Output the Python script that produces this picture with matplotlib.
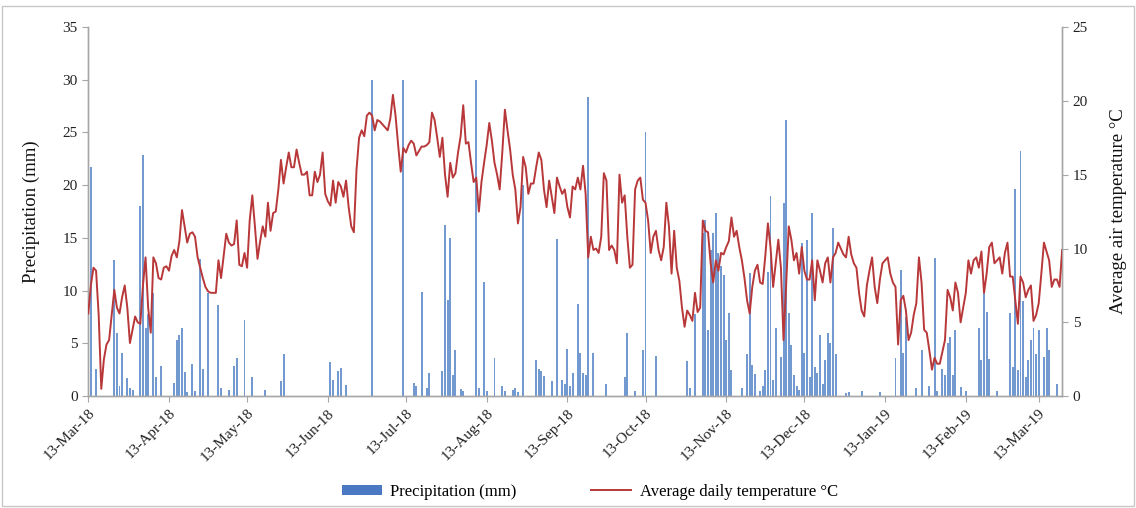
import matplotlib
matplotlib.use("Agg")
import matplotlib.pyplot as plt
import matplotlib.dates as mdates
from matplotlib.patches import Rectangle, Patch
from matplotlib.lines import Line2D
import numpy as np
import pandas as pd

plt.rcParams['font.family'] = ['Liberation Serif', 'DejaVu Serif']

start_date = "2018-03-13"
n_days = 375

# Average daily air temperature (°C), one value per day from 13-Mar-18
temperature = [
    5.6, 7.5, 8.7, 8.5, 5.5, 0.5, 2.5, 3.5, 3.8, 5.5,
    7.2, 6.0, 5.6, 6.7, 7.5, 6.0, 3.6, 4.5, 5.4, 5.0,
    4.9, 7.5, 9.4, 6.0, 4.3, 9.4, 9.0, 8.0, 7.9, 8.7,
    8.8, 8.5, 9.5, 9.9, 9.4, 10.5, 12.6, 11.5, 10.4, 11.0,
    11.1, 10.8, 9.4, 8.7, 8.0, 7.4, 7.1, 7.0, 7.0, 7.0,
    9.2, 8.0, 9.5, 11.0, 10.4, 10.2, 10.3, 11.9, 8.9, 8.8,
    9.7, 8.7, 11.9, 13.6, 11.5, 9.3, 10.5, 11.5, 10.8, 13.1,
    11.2, 12.4, 12.5, 14.0, 16.0, 14.4, 15.5, 16.5, 15.5, 15.5,
    16.7, 15.8, 15.0, 15.0, 15.2, 13.6, 13.6, 15.2, 14.5, 15.0,
    16.5, 13.7, 13.2, 12.9, 14.6, 13.1, 14.5, 14.2, 13.5, 14.6,
    12.8, 11.5, 11.1, 15.3, 17.5, 18.0, 17.6, 19.0, 19.2, 19.0,
    18.0, 18.7, 18.6, 18.4, 18.2, 18.0, 18.8, 20.4, 19.0, 17.0,
    15.2, 16.8, 16.5, 17.0, 17.3, 17.1, 16.3, 16.6, 16.9, 16.9,
    17.0, 17.2, 19.2, 18.7, 17.5, 16.2, 17.5, 15.0, 13.5, 15.8,
    14.8, 15.1, 16.5, 17.6, 19.7, 17.1, 17.2, 15.8, 14.5, 14.8,
    12.5, 14.5, 15.8, 17.0, 18.5, 17.3, 15.8, 15.0, 14.0, 16.5,
    19.4, 18.0, 16.7, 15.0, 14.0, 11.7, 12.8, 16.2, 15.5, 13.7,
    14.4, 14.4, 15.5, 16.5, 16.0, 14.0, 12.8, 14.6, 13.5, 12.4,
    14.8, 14.2, 13.7, 14.0, 12.8, 12.1, 14.2, 14.0, 14.8, 14.0,
    15.6, 13.7, 9.4, 10.8, 9.9, 10.0, 9.7, 10.8, 15.1, 14.6,
    9.9, 10.2, 9.9, 9.0, 15.0, 13.1, 13.6, 10.8, 8.7, 8.9,
    14.0, 14.6, 14.8, 13.3, 13.1, 11.9, 9.7, 10.8, 11.2, 9.9,
    9.2, 10.1, 13.1, 11.5, 8.3, 11.2, 8.7, 7.8, 6.0, 4.7,
    5.8, 5.5, 5.1, 7.0, 5.7, 6.0, 11.9, 11.2, 11.1, 9.0,
    7.7, 9.2, 8.5, 9.7, 9.6, 10.1, 10.5, 12.1, 10.8, 11.2,
    10.1, 9.2, 8.0, 6.5, 5.6, 7.4, 8.5, 8.9, 7.7, 7.6,
    9.5, 11.7, 10.1, 7.4, 9.0, 10.6, 8.7, 3.8, 7.5, 11.5,
    10.6, 9.2, 9.7, 8.3, 10.1, 8.5, 7.9, 7.9, 9.2, 6.5,
    9.2, 8.5, 7.7, 9.0, 9.4, 7.7, 9.4, 9.7, 10.4, 10.0,
    9.6, 9.4, 10.8, 9.6, 9.0, 8.7, 7.0, 5.8, 5.4, 7.5,
    8.5, 9.4, 7.4, 6.3, 7.9, 9.0, 9.2, 9.4, 8.3, 7.7,
    7.4, 3.5, 6.5, 6.8, 5.8, 3.8, 4.3, 5.5, 6.3, 9.4,
    7.7, 4.5, 4.3, 3.1, 1.8, 2.6, 2.2, 2.2, 3.0, 3.8,
    7.2, 6.7, 5.8, 7.7, 7.0, 5.0, 6.0, 7.0, 9.2, 8.3,
    9.2, 9.4, 8.7, 9.8, 7.0, 8.3, 10.1, 10.4, 9.0, 9.2,
    9.4, 8.3, 9.7, 10.4, 8.1, 8.1, 6.5, 4.9, 8.1, 7.7,
    6.7, 7.2, 7.5, 5.1, 5.5, 6.3, 8.3, 10.4, 9.8, 9.2,
    7.4, 7.9, 7.9, 7.4, 9.9,
]

# Rain days (days since 13-Mar-18) and daily precipitation (mm)
rain_day = [
    1, 3, 10, 11, 12, 13, 15, 16, 17, 20, 21, 22, 23, 25, 26, 28,
    33, 34, 35, 36, 37, 38, 40, 41, 43, 44, 46, 50, 51, 54, 56, 57, 60,
    63, 68, 74, 75, 93, 94, 96, 97, 99, 109, 121, 125, 126, 128, 130, 131,
    136, 137, 138, 139, 140, 141, 143, 144, 149, 150, 152, 153, 156,
    159, 160, 163, 164, 165, 167, 172, 173, 174, 175, 178, 180, 182, 183,
    184, 185, 186, 188, 189, 190, 191, 192, 194, 199, 206, 207, 210, 213,
    214, 218, 230, 231, 233, 236, 237, 238, 239, 240, 241, 242, 243, 244,
    245, 246, 247, 251, 253, 254, 255, 256, 258, 259, 260, 261, 262, 263,
    264, 266, 267, 268, 269, 270, 271, 272, 273, 274, 275, 276, 277, 278,
    279, 280, 281, 282, 283, 284, 285, 286, 287, 291, 292, 297, 304, 310,
    312, 313, 314, 318, 320, 323, 325, 326, 328, 329, 330, 331, 332, 333,
    335, 337, 342, 343, 344, 345, 346, 349, 354, 355, 356, 357, 358, 359,
    360, 361, 362, 363, 364, 365, 367, 368, 369, 372,
]
rain_mm = [
    21.7, 2.6, 12.9, 6.0, 1.0, 4.1, 1.7, 0.8, 0.6, 18.0, 22.9, 6.5, 7.8, 9.8, 1.8, 2.9,
    1.3, 5.3, 5.8, 6.5, 2.3, 0.4, 3.1, 0.5, 13.0, 2.6, 9.8, 8.6, 0.8, 0.6, 2.9, 3.6, 7.2,
    1.8, 0.6, 1.4, 4.0, 3.2, 1.5, 2.4, 2.7, 1.1, 30.0, 30.0, 1.3, 1.0, 9.9, 0.8, 2.2,
    2.4, 16.2, 9.1, 15.0, 2.0, 4.4, 0.7, 0.5, 30.0, 0.8, 10.8, 0.5, 3.6,
    1.0, 0.5, 0.6, 0.8, 0.4, 20.0, 3.4, 2.6, 2.4, 1.9, 1.4, 14.9, 1.5, 1.2,
    4.5, 1.0, 2.2, 8.7, 4.1, 2.2, 2.0, 28.4, 4.1, 1.2, 1.8, 6.0, 0.5, 4.4,
    25.0, 3.8, 3.3, 0.8, 7.8, 15.5, 16.7, 6.3, 13.9, 15.5, 17.4, 13.6, 12.3, 11.5,
    5.3, 7.9, 2.5, 0.8, 4.0, 11.7, 3.0, 2.1, 0.5, 1.0, 2.5, 11.8, 19.0, 1.5,
    6.5, 3.7, 18.3, 26.2, 7.9, 4.9, 2.0, 1.0, 0.6, 14.5, 4.1, 14.8, 1.8, 17.4,
    2.8, 2.2, 5.8, 1.2, 3.4, 6.0, 5.0, 15.9, 4.0, 0.3, 0.4, 0.5, 0.4, 3.6,
    12.0, 4.1, 7.5, 0.8, 4.4, 1.0, 13.1, 0.5, 2.6, 2.0, 5.0, 5.6, 2.0, 6.3,
    0.9, 0.5, 6.5, 3.4, 9.8, 8.0, 3.5, 0.5, 7.9, 2.8, 19.6, 2.5, 23.2, 9.0,
    1.8, 3.4, 5.3, 6.5, 4.0, 6.3, 3.7, 6.5, 4.4, 1.2,
]

dates = pd.date_range(start_date, periods=n_days, freq="D")
rain_dates = pd.to_datetime(start_date) + pd.to_timedelta(rain_day, unit="D")
tick_dates = pd.date_range("2018-03-01", "2019-03-01", freq="MS") + pd.Timedelta(days=12)

fig = plt.figure(figsize=(11.36, 5.08), dpi=100)
ax = fig.add_axes([0.0775, 0.220, 0.8575, 0.727])
ax2 = ax.twinx()

bar_color = "#5b87c9"
line_color = "#b8383a"
axis_color = "#a6a6a6"

ax.bar(rain_dates, rain_mm, width=0.75, color=bar_color, linewidth=0, alpha=0.85, zorder=2)
ax2.plot(dates, temperature, color=line_color, linewidth=1.4, zorder=3)

ax.set_ylim(0, 35)
ax.set_yticks(range(0, 36, 5))
ax2.set_ylim(0, 25)
ax2.set_yticks(range(0, 26, 5))
ax.set_xlim(dates[0] - pd.Timedelta(hours=2), dates[-1])

ax.set_xticks(tick_dates)
ax.xaxis.set_major_formatter(mdates.DateFormatter("%d-%b-%y"))
for lbl in ax.get_xticklabels():
    lbl.set_rotation(45)
    lbl.set_ha("right")
    lbl.set_rotation_mode("anchor")

for a in (ax, ax2):
    a.spines["top"].set_visible(False)
    for s in ("left", "right", "bottom"):
        a.spines[s].set_color(axis_color)
        a.spines[s].set_linewidth(1.0)
    a.tick_params(axis="both", colors=axis_color, labelcolor="#222222", labelsize=11,
                  direction="out", length=4)

ax.set_ylabel("Precipitation (mm)", fontsize=13.5, color="#111111", labelpad=16)
ax2.set_ylabel("Average air temperature °C", fontsize=13.5, color="#111111", labelpad=16)

handles = [Patch(facecolor="#4a78c2", edgecolor="none"),
           Line2D([0], [0], color=line_color, linewidth=1.4)]
fig.legend(handles, ["Precipitation (mm)", "Average daily temperature °C"],
           loc="center", bbox_to_anchor=(0.519, 0.032), ncol=2, frameon=False,
           fontsize=12, handlelength=2.4, handleheight=0.5, handletextpad=0.5,
           columnspacing=4.5)

fig.patches.append(Rectangle((0.002, 0.004), 0.996, 0.985, transform=fig.transFigure,
                             fill=False, edgecolor="#c8c8c8", linewidth=1.0))

fig.savefig("out.png", dpi=100)
